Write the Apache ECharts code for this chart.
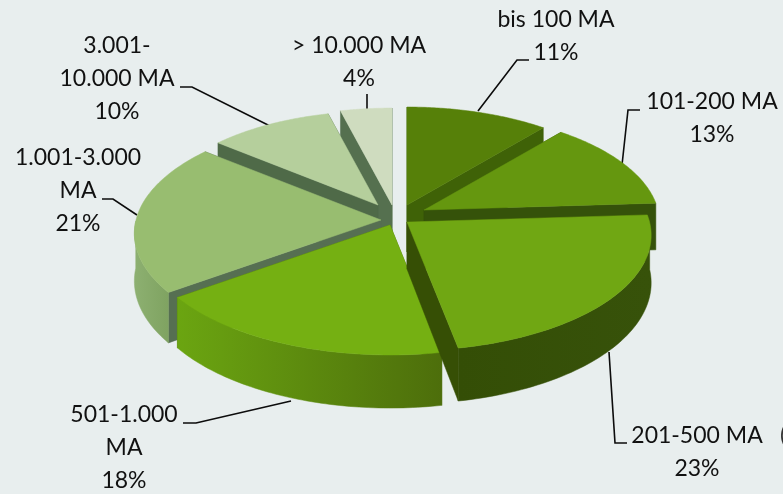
<!DOCTYPE html>
<html>
<head>
<meta charset="utf-8">
<style>html,body{margin:0;padding:0;background:#e8eeee}#c{width:783px;height:494px}</style>
<script src="https://cdn.jsdelivr.net/npm/echarts@6/dist/echarts.min.js"></script>
</head>
<body>
<div id="c"></div>
<script>
// --- data ---
const categories = ['bis 100 MA', '101-200 MA', '201-500 MA', '501-1.000 MA', '1.001-3.000 MA', '3.001-10.000 MA', '> 10.000 MA'];
const shares = [11, 13, 23, 18, 21, 10, 4];
const labelLines = [
  ['bis 100 MA'], ['101-200 MA'], ['201-500 MA'], ['501-1.000', 'MA'],
  ['1.001-3.000', 'MA'], ['3.001-', '10.000 MA'], ['> 10.000 MA']
];

// --- styling and layout ---
const topColors  = ['#568009', '#65970f', '#70a713', '#75b012', '#98bd70', '#b5cf9c', '#cfdcbf'];
const cutColors  = ['#3f6207', '#35520a', '#364f05', '#4a6e0a', '#566f52', '#4f6a48', '#55704f'];
const rimColors  = [
  ['#3f6207', '#3f6207'], ['#3a5a06', '#35520a'], ['#344e06', '#37520a'],
  ['#6ba511', '#4d6e0b'], ['#8db071', '#7fa361'], ['#9ab886', '#9ab886'], ['#b5c5a5', '#b5c5a5']
];
// where each exploded slice's tip sits, and its radius factor
const tips = [[407, 205], [424, 210], [407, 222], [390, 225], [381, 220], [378, 205], [392, 205]];
const sizes = [0.95, 0.955, 0.99, 1, 1, 0.91, 0.94];
const paintOrder = [6, 0, 5, 1, 4, 3, 2];
const R = 245, Q = 115, PERSP = 0.115, DEPTH = 47;
const labelCentres = [[556, 36], [712, 118.5], [697, 452], [124, 448], [78, 191], [117, 79], [359, 62.5]];
const leaders = [
  [[529, 60], [517, 60], [478, 111]],
  [[640, 110], [628, 110], [622, 165]],
  [[627, 443], [615, 443], [609, 352]],
  [[183, 423], [196, 423], [291, 401]],
  [[102, 199], [113, 199], [137, 215]],
  [[180, 87], [192, 87], [270, 126]],
  [[367, 94], [367, 110]]
];
const FONT = 'Lato, "Open Sans", sans-serif';

const total = shares.reduce((a, b) => a + b, 0);
function project(i, theta, down) {
  const px = Math.sin(theta), py = Math.cos(theta);
  const s = 1 / (1 + PERSP * py);
  return [
    tips[i][0] + R * sizes[i] * px * s,
    tips[i][1] - Q * sizes[i] * py * s + (down ? DEPTH * s : 0)
  ];
}
function tipPoint(i, down) {
  return [tips[i][0], tips[i][1] + (down ? DEPTH : 0)];
}
function renderSlice(params, api) {
  const i = api.value(0);
  let before = 0;
  for (let k = 0; k < i; k++) before += shares[k];
  const a0 = before / total * 2 * Math.PI;
  const a1 = (before + api.value(1)) / total * 2 * Math.PI;
  const N = 64;
  const arcTop = [], rimTop = [], rimLow = [];
  for (let n = 0; n <= N; n++) {
    const t = a0 + (a1 - a0) * n / N;
    arcTop.push(project(i, t, false));
    // the outer wall only shows on the half of the disc facing the viewer
    if (t >= Math.PI / 2 && t <= 1.5 * Math.PI) {
      rimTop.push(project(i, t, false));
      rimLow.push(project(i, t, true));
    }
  }
  const tipT = tipPoint(i, false), tipL = tipPoint(i, true);
  const rimFill = new echarts.graphic.LinearGradient(0, 0, 1, 0, [
    { offset: 0, color: rimColors[i][0] }, { offset: 1, color: rimColors[i][1] }
  ]);
  const poly = (pts, fill) => ({
    type: 'polygon', shape: { points: pts },
    style: { fill: fill, stroke: fill, lineWidth: 0.5 }
  });
  const children = [
    poly([tipT, arcTop[0], project(i, a0, true), tipL], cutColors[i]),
    poly([tipT, arcTop[N], project(i, a1, true), tipL], cutColors[i])
  ];
  if (rimTop.length > 1) {
    children.push(poly(rimTop.concat(rimLow.reverse()), rimFill));
  }
  children.push(poly([tipT].concat(arcTop), topColors[i]));
  return { type: 'group', children: children };
}

const graphicEls = [];
categories.forEach((name, i) => {
  graphicEls.push({
    type: 'text', x: labelCentres[i][0], y: labelCentres[i][1],
    style: {
      text: labelLines[i].concat([shares[i] + '%']).join('\n'),
      font: '23px ' + FONT, fill: '#111', align: 'center',
      verticalAlign: 'middle', lineHeight: 33
    }
  });
  graphicEls.push({
    type: 'polyline', shape: { points: leaders[i] },
    style: { stroke: '#0c0c0c', lineWidth: 1.6, fill: 'none' }
  });
});
graphicEls.push({
  type: 'text', x: 780, y: 436,
  style: { text: '(', font: '23px ' + FONT, fill: '#333', align: 'left', verticalAlign: 'middle' }
});

const chart = echarts.init(document.getElementById('c'), null, { renderer: 'canvas' });
chart.setOption({
  backgroundColor: '#e8eeee',
  animation: false,
  graphic: graphicEls,
  series: [{
    type: 'custom',
    coordinateSystem: 'none',
    renderItem: renderSlice,
    silent: true,
    data: paintOrder.map(i => [i, shares[i]])
  }]
});
</script>
</body>
</html>
